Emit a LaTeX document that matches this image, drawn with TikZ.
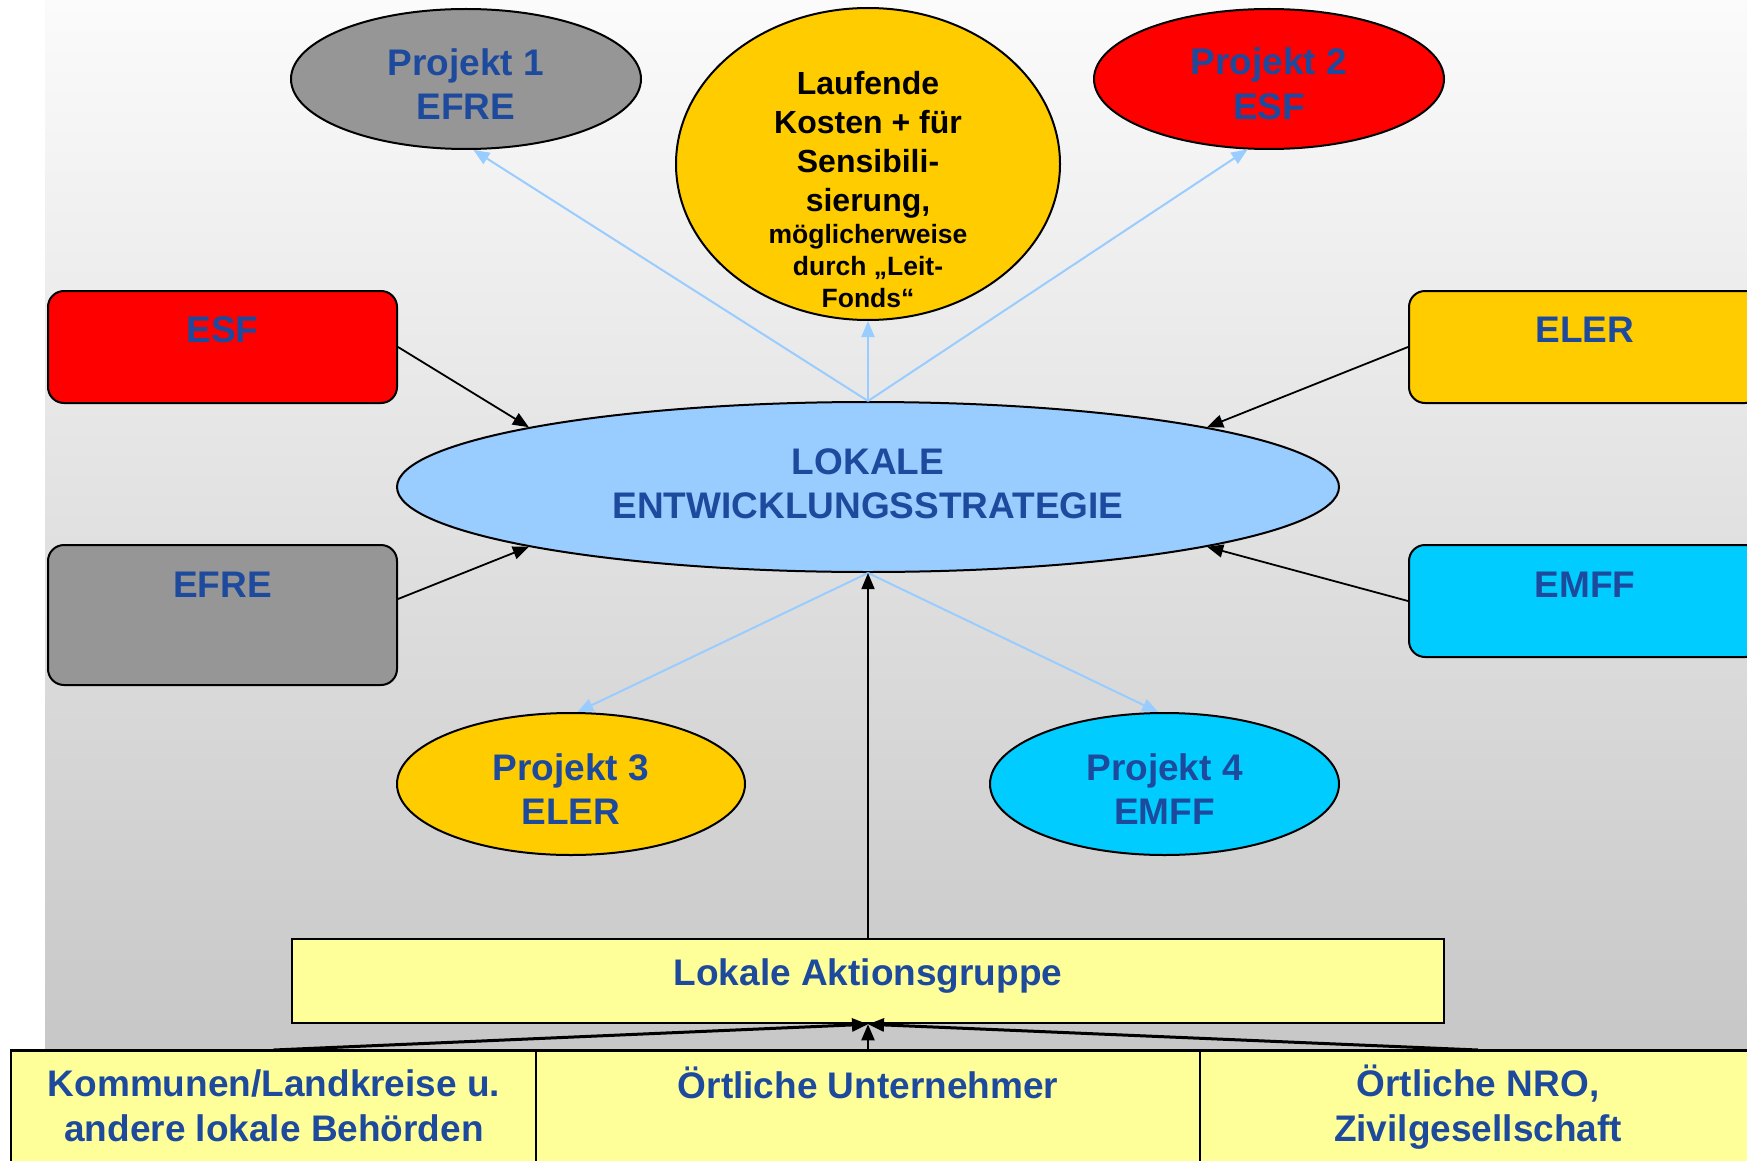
\documentclass[tikz,border=0pt]{standalone}
\usepackage{fontspec}
\setmainfont{Liberation Sans}
\usetikzlibrary{arrows.meta,shapes.geometric}
\definecolor{txtblue}{RGB}{30,74,158}
\definecolor{fgray}{RGB}{150,150,150}
\definecolor{fred}{RGB}{255,0,0}
\definecolor{fgold}{RGB}{255,204,0}
\definecolor{flblue}{RGB}{153,204,255}
\definecolor{fcyan}{RGB}{0,204,255}
\definecolor{fyellow}{RGB}{255,255,153}
\definecolor{bgtop}{RGB}{251,251,251}
\definecolor{bgbot}{RGB}{199,199,199}
\begin{document}
\begin{tikzpicture}[x=1pt,y=-1pt,
  ell/.style={ellipse, draw=black, line width=2pt, inner sep=0pt},
  rbox/.style={rectangle, rounded corners=16pt, draw=black, line width=2pt, inner sep=0pt},
  sbox/.style={rectangle, draw=black, line width=2.5pt, inner sep=0pt},
  txt/.style={text=txtblue, font=\fontsize{37}{44.5}\selectfont\bfseries, align=center, inner sep=0pt},
  ktxt/.style={text=black, font=\fontsize{32}{39}\selectfont\bfseries, align=center, inner sep=0pt},
  feed/.style={draw=flblue, line width=2pt, -{Triangle[length=16pt,width=13pt]}},
  flow/.style={draw=black, line width=1.8pt, -{Triangle[length=16pt,width=13pt]}},
  base/.style={draw=black, line width=3pt, -{Triangle[length=16pt,width=13pt]}},
]
\useasboundingbox (0,0) rectangle (1747,1161);
\clip (0,0) rectangle (1747,1161);
\fill[white] (0,0) rectangle (1747,1161);
\shade[top color=bgtop,bottom color=bgbot] (45,0) rectangle (1747,1051);

% top ellipses
\node[ell, fill=fgray, minimum width=350pt, minimum height=140pt] (p1) at (466,79) {};
\node[txt] (p1t) at (466,84) {Projekt 1\\EFRE};
\node[ell, fill=fgold, minimum width=384pt, minimum height=312pt] (lauf) at (868,164) {};
\node[ktxt] (lauft) at (868,190) {Laufende\\Kosten + für\\Sensibili-\\sierung,\\[-7pt]{\fontsize{26.5}{32}\selectfont möglicherweise}\\[-7pt]{\fontsize{26.5}{32}\selectfont durch „Leit-}\\[-7pt]{\fontsize{26.5}{32}\selectfont Fonds“}};
\node[ell, fill=fred, minimum width=350pt, minimum height=140pt] (p2) at (1269,79) {};
\node[txt] (p2t) at (1269,84) {Projekt 2\\ESF};

% fund boxes
\node[rbox, fill=fred, minimum width=349pt, minimum height=112pt] (esf) at (222.5,347) {};
\node[txt, anchor=base] (esft) at (222.5,342) {ESF};
\node[rbox, fill=fgold, minimum width=352pt, minimum height=112pt] (eler) at (1585,347) {};
\node[txt, anchor=base] (elert) at (1585,342) {ELER};
\node[rbox, fill=fgray, minimum width=349pt, minimum height=140pt] (efre) at (222.5,615) {};
\node[txt, anchor=base] (efret) at (222.5,597) {EFRE};
\node[rbox, fill=fcyan, minimum width=352pt, minimum height=112pt] (emff) at (1585,601) {};
\node[txt, anchor=base] (emfft) at (1585,597) {EMFF};

% central ellipse
\node[ell, fill=flblue, minimum width=942pt, minimum height=170pt] (lok) at (868,487) {};
\node[txt] (lokt) at (868,484) {LOKALE\\ENTWICKLUNGSSTRATEGIE};

% lower projects
\node[ell, fill=fgold, minimum width=348pt, minimum height=142pt] (p3) at (571,784) {};
\node[txt] (p3t) at (571,789) {Projekt 3\\ELER};
\node[ell, fill=fcyan, minimum width=349pt, minimum height=142pt] (p4) at (1164.5,784) {};
\node[txt] (p4t) at (1164.5,789) {Projekt 4\\EMFF};

% LAG
\node[sbox, fill=fyellow, minimum width=1152pt, minimum height=84pt] (lag) at (868,981) {};
\node[txt, anchor=base] (lagt) at (868,985) {Lokale Aktionsgruppe};

% bottom boxes
\node[sbox, line width=2pt, fill=fyellow, minimum width=525pt, minimum height=160pt] (b1) at (273.5,1131) {};
\node[sbox, line width=2pt, fill=fyellow, minimum width=664pt, minimum height=160pt] (b2) at (868,1131) {};
\node[sbox, line width=2pt, fill=fyellow, minimum width=556pt, minimum height=160pt] (b3) at (1478,1131) {};
\draw[line width=3pt] (b1.north west) -- (b3.north east);
\node[txt] (b1t) at (274,1106) {Kommunen/Landkreise u.\\andere lokale Behörden};
\node[txt, anchor=base] (b2t) at (868,1098) {Örtliche Unternehmer};
\node[txt] (b3t) at (1478,1107) {Örtliche NRO,\\Zivilgesellschaft};

% connectors
\draw[feed] (lok.north) -- (p1.-84);
\draw[feed] (lok.north) -- (lauf.south);
\draw[feed] (lok.north) -- (p2.-107);
\draw[feed] (lok.south) -- (p3.85);
\draw[feed] (lok.south) -- (p4.95);
\draw[flow] (esf.east) -- (lok.170);
\draw[flow] (eler.west) -- (lok.10);
\draw[flow] ([yshift=16pt]efre.east) -- (lok.-170);
\draw[flow] (emff.west) -- (lok.-10);
\draw[flow, line width=1.5pt] (lag.north) -- (lok.south);
\draw[base] (b1.north) -- (lag.south);
\draw[base] (b3.north) -- (lag.south);
\draw[base, line width=2pt] (b2.north) -- (lag.south);
\end{tikzpicture}
\end{document}
